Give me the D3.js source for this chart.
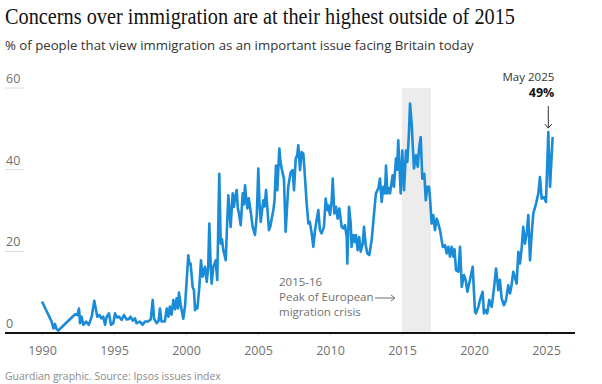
<!DOCTYPE html>
<html>
<head>
<meta charset="utf-8">
<script src="https://cdn.jsdelivr.net/npm/d3@7"></script>
<style>
  body { margin: 0; background: #fff; }
  svg { display: block; }
  text { font-family: 'Open Sans', sans-serif; }
</style>
</head>
<body>
<svg id="chart" width="602" height="384"></svg>
<script>
// survey dates (decimal years) and share of people naming immigration (%)
const dates = [
  1990.0, 1990.67, 1990.8, 1990.9, 1991.0, 1991.13, 1992.3, 1992.45, 1992.57, 1992.64,
  1992.75, 1992.87, 1993.06, 1993.25, 1993.45, 1993.63, 1993.84, 1994.0, 1994.12, 1994.25,
  1994.38, 1994.49, 1994.65, 1994.79, 1994.95, 1995.07, 1995.2, 1995.35, 1995.53, 1995.69,
  1995.88, 1996.02, 1996.15, 1996.3, 1996.45, 1996.57, 1996.8, 1996.99, 1997.15, 1997.35,
  1997.55, 1997.69, 1997.78, 1997.96, 1998.1, 1998.19, 1998.3, 1998.53, 1998.66, 1998.78,
  1998.88, 1999.0, 1999.12, 1999.24, 1999.35, 1999.45, 1999.51, 1999.63, 1999.81, 1999.93,
  2000.05, 2000.16, 2000.24, 2000.32, 2000.46, 2000.55, 2000.63, 2000.72, 2000.79, 2000.92,
  2001.04, 2001.16, 2001.32, 2001.44, 2001.54, 2001.62, 2001.7, 2001.78, 2001.9, 2002.06,
  2002.17, 2002.31, 2002.41, 2002.5, 2002.59, 2002.76, 2002.86, 2002.94, 2003.1, 2003.24,
  2003.33, 2003.42, 2003.52, 2003.6, 2003.68, 2003.8, 2003.94, 2004.02, 2004.1, 2004.18,
  2004.26, 2004.36, 2004.44, 2004.54, 2004.63, 2004.79, 2004.92, 2005.02, 2005.1, 2005.19,
  2005.28, 2005.37, 2005.46, 2005.56, 2005.66, 2005.76, 2005.85, 2005.95, 2006.06, 2006.15,
  2006.25, 2006.34, 2006.48, 2006.56, 2006.64, 2006.8, 2006.92, 2007.02, 2007.1, 2007.27,
  2007.41, 2007.5, 2007.62, 2007.72, 2007.8, 2007.92, 2008.03, 2008.15, 2008.26, 2008.38,
  2008.5, 2008.6, 2008.73, 2008.84, 2008.96, 2009.07, 2009.19, 2009.3, 2009.42, 2009.58,
  2009.7, 2009.81, 2009.88, 2010.0, 2010.12, 2010.19, 2010.3, 2010.42, 2010.53, 2010.65,
  2010.81, 2010.92, 2011.04, 2011.16, 2011.2, 2011.32, 2011.44, 2011.5, 2011.62, 2011.74,
  2011.8, 2011.92, 2012.03, 2012.13, 2012.27, 2012.36, 2012.48, 2012.59, 2012.73, 2012.9,
  2013.06, 2013.19, 2013.36, 2013.47, 2013.59, 2013.7, 2013.82, 2013.89, 2013.98, 2014.08,
  2014.17, 2014.26, 2014.35, 2014.44, 2014.58, 2014.66, 2014.74, 2014.91, 2015.02, 2015.14,
  2015.28, 2015.37, 2015.47, 2015.56, 2015.67, 2015.83, 2015.97, 2016.09, 2016.2, 2016.3,
  2016.41, 2016.55, 2016.65, 2016.76, 2016.88, 2016.94, 2017.06, 2017.17, 2017.29, 2017.41,
  2017.52, 2017.64, 2017.83, 2017.99, 2018.1, 2018.22, 2018.33, 2018.45, 2018.56, 2018.65,
  2018.75, 2018.91, 2019.03, 2019.15, 2019.3, 2019.42, 2019.54, 2019.72, 2019.91, 2020.07,
  2020.14, 2020.3, 2020.42, 2020.6, 2020.69, 2020.83, 2020.92, 2021.06, 2021.23, 2021.39,
  2021.53, 2021.69, 2021.8, 2021.92, 2022.08, 2022.22, 2022.38, 2022.5, 2022.6, 2022.73,
  2022.85, 2022.96, 2023.08, 2023.19, 2023.31, 2023.42, 2023.54, 2023.66, 2023.77, 2023.89,
  2024.0, 2024.12, 2024.31, 2024.47, 2024.58, 2024.7, 2024.86, 2025.0, 2025.16, 2025.28,
  2025.46
];
const values = [
  7.7, 2.8, 1.1, 2.2, 1.1, 0.6, 4.6, 4.4, 6.0, 2.4,
  4.0, 2.0, 2.8, 2.0, 4.0, 7.9, 4.0, 4.4, 3.6, 4.0,
  2.0, 4.0, 4.8, 2.0, 2.4, 4.8, 3.8, 4.0, 3.2, 4.4,
  3.3, 3.4, 4.0, 3.0, 3.6, 2.4, 2.8, 2.0, 2.8, 2.8,
  3.3, 8.1, 3.5, 2.4, 3.0, 6.0, 2.8, 2.8, 6.0, 4.0,
  6.5, 4.5, 8.1, 5.8, 8.5, 6.0, 9.9, 7.0, 3.5, 6.5,
  13.0, 19.0, 17.0, 17.0, 11.3, 10.5, 5.6, 6.5, 6.0, 11.0,
  17.8, 13.8, 16.2, 12.5, 16.0, 26.8, 18.0, 12.1, 16.2, 17.8,
  13.0, 39.0, 21.9, 23.0, 20.3, 17.8, 27.0, 33.7, 26.0, 34.2,
  30.9, 33.5, 35.0, 30.5, 29.3, 26.4, 34.2, 31.5, 36.2, 33.0,
  30.5, 33.0, 31.0, 28.5, 26.0, 24.0, 29.0, 40.3, 32.0, 27.2,
  30.0, 32.5, 31.0, 35.0, 30.0, 25.2, 26.0, 28.0, 30.0, 32.5,
  41.0, 35.0, 45.2, 42.0, 40.3, 37.8, 24.8, 31.0, 35.8, 39.4,
  39.9, 35.0, 42.7, 43.5, 46.0, 39.9, 44.3, 43.9, 38.2, 31.7,
  26.8, 27.2, 24.4, 21.1, 25.2, 27.6, 30.1, 25.2, 24.4, 26.0,
  32.9, 30.1, 31.3, 28.9, 32.5, 37.8, 29.3, 30.9, 28.0, 30.5,
  26.0, 25.6, 26.4, 23.5, 17.0, 30.9, 26.8, 21.1, 24.0, 22.3,
  24.0, 20.3, 23.5, 19.9, 21.9, 26.0, 21.5, 19.5, 19.1, 23.0,
  29.3, 34.2, 35.4, 37.8, 32.1, 35.8, 34.2, 41.0, 34.2, 35.5,
  34.2, 36.5, 38.6, 35.8, 42.7, 40.0, 47.2, 34.2, 44.7, 35.0,
  44.7, 41.9, 48.0, 56.2, 51.3, 40.3, 43.5, 40.7, 45.6, 48.0,
  37.8, 39.0, 32.5, 35.8, 35.8, 33.3, 26.8, 28.9, 25.2, 28.0,
  26.8, 25.2, 21.1, 21.5, 19.5, 21.1, 18.7, 21.1, 18.7, 20.5,
  15.4, 15.0, 21.1, 11.3, 14.2, 13.0, 10.1, 13.0, 16.2, 5.2,
  4.8, 6.4, 8.1, 10.1, 4.8, 5.6, 4.8, 8.1, 6.4, 11.0,
  15.8, 10.5, 13.0, 8.5, 6.8, 8.0, 11.7, 9.7, 11.5, 15.0,
  13.5, 12.1, 19.9, 17.0, 20.7, 26.0, 21.9, 24.4, 28.9, 17.8,
  24.0, 29.3, 31.7, 34.2, 38.2, 32.9, 33.3, 32.1, 49.2, 35.8,
  48.0
];

const xTicks = [1990, 1995, 2000, 2005, 2010, 2015, 2020, 2025];
const yTicks = [0, 20, 40, 60];
const crisisYears = [2015, 2017];
const peakLabel = ['May 2025', '49%'];
const crisisLabel = ['2015-16', 'Peak of European', 'migration crisis'];

const data = dates.map((d, i) => ({ date: d, value: values[i] }));

const svg = d3.select('#chart');

const x = d3.scaleLinear().domain([1990, 2025]).range([42, 546]);
const y = d3.scaleLinear().domain([0, 60]).range([333, 88]);

// fit a text element to a given width by changing its font size
function fit(sel, width) {
  const w = sel.node().getComputedTextLength();
  const fs = parseFloat(sel.style('font-size'));
  sel.style('font-size', (fs * width / w).toFixed(2) + 'px');
}

// headings
svg.append('text')
  .attr('x', 5)
  .attr('y', 24)
  .attr('textLength', 510)
  .attr('lengthAdjust', 'spacingAndGlyphs')
  .style('font-family', "'Liberation Serif', serif")
  .style('font-size', '23px')
  .style('fill', '#121212')
  .text('Concerns over immigration are at their highest outside of 2015');

const sub = svg.append('text')
  .attr('x', 5)
  .attr('y', 50)
  .style('font-size', '14px')
  .style('fill', '#333')
  .text('% of people that view immigration as an important issue facing Britain today');
fit(sub, 469);

// shaded crisis band
svg.append('rect')
  .attr('x', x(crisisYears[0]))
  .attr('y', y(60))
  .attr('width', x(crisisYears[1]) - x(crisisYears[0]))
  .attr('height', y(0) - y(60))
  .style('fill', '#ececec');

// y labels with short rules
const yg = svg.append('g');
yg.selectAll('line')
  .data(yTicks.filter((d) => d > 0))
  .join('line')
  .attr('x1', 5)
  .attr('x2', 24)
  .attr('y1', (d) => y(d))
  .attr('y2', (d) => y(d))
  .style('stroke', '#dcdcdc')
  .style('stroke-width', 1);
yg.selectAll('text')
  .data(yTicks)
  .join('text')
  .attr('x', 6)
  .attr('y', (d) => y(d) - 5)
  .text((d) => d)
  .style('font-size', '12.5px')
  .style('fill', '#707070');

// x axis
const xAxis = d3.axisBottom(x)
  .tickValues(xTicks)
  .tickFormat(d3.format('d'))
  .tickSize(3)
  .tickPadding(10);
const xg = svg.append('g')
  .attr('transform', `translate(0,${y(0)})`)
  .call(xAxis);
xg.select('.domain').remove();
xg.selectAll('line').style('stroke', '#e0e0e0');
xg.selectAll('text')
  .style('font-family', "'Open Sans', sans-serif")
  .style('font-size', '12.5px')
  .style('fill', '#707070');

// line
const line = d3.line()
  .x((d) => x(d.date))
  .y((d) => y(d.value));

svg.append('path')
  .datum(data)
  .attr('d', line)
  .style('fill', 'none')
  .style('stroke', '#1a8bd6')
  .style('stroke-width', 2.6)
  .style('stroke-linejoin', 'round');

// baseline
svg.append('line')
  .attr('x1', 5)
  .attr('x2', 575)
  .attr('y1', y(0))
  .attr('y2', y(0))
  .style('stroke', '#121212')
  .style('stroke-width', 2);

// peak annotation
const peak = data[d3.maxIndex(data, (d) => (d.date > 2020 ? d.value : 0))];
const px = x(peak.date);
svg.append('text')
  .attr('x', px + 6)
  .attr('y', 80.5)
  .attr('text-anchor', 'end')
  .style('font-size', '11.5px')
  .style('fill', '#333')
  .text(peakLabel[0]);
svg.append('text')
  .attr('x', px + 6)
  .attr('y', 97)
  .attr('text-anchor', 'end')
  .style('font-size', '12.5px')
  .style('font-weight', 'bold')
  .style('fill', '#121212')
  .text(peakLabel[1]);
svg.append('path')
  .attr('d', `M${px},${106}V${y(peak.value) - 4}M${px - 3.5},${y(peak.value) - 8}L${px},${y(peak.value) - 4}L${px + 3.5},${y(peak.value) - 8}`)
  .style('fill', 'none')
  .style('stroke', '#333')
  .style('stroke-width', 1);

// crisis annotation
svg.append('g')
  .selectAll('text')
  .data(crisisLabel)
  .join('text')
  .attr('x', 279)
  .attr('y', (d, i) => 286 + i * 15)
  .text((d) => d)
  .style('font-size', '11.5px')
  .style('fill', '#707070');
const ax = x(crisisYears[0]) - 7;
svg.append('path')
  .attr('d', `M${ax - 20},298H${ax}M${ax - 4},295L${ax},298L${ax - 4},301`)
  .style('fill', 'none')
  .style('stroke', '#707070')
  .style('stroke-width', 1);

// source
const src = svg.append('text')
  .attr('x', 5)
  .attr('y', 380)
  .style('font-size', '11.5px')
  .style('fill', '#8a8a8a')
  .text('Guardian graphic. Source: Ipsos issues index');
fit(src, 216);
</script>
</body>
</html>
